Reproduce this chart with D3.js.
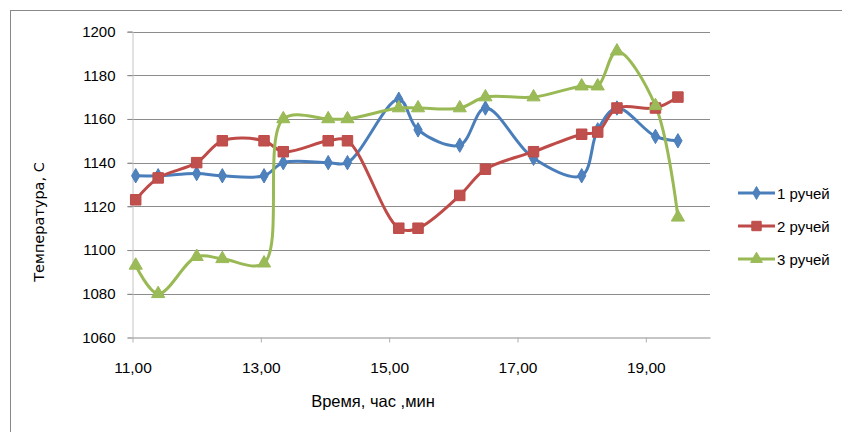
<!DOCTYPE html>
<html>
<head>
<meta charset="utf-8">
<script src="https://cdn.jsdelivr.net/npm/d3@7/dist/d3.min.js"></script>
<style>
  html, body { margin: 0; padding: 0; background: #fff; }
  svg { display: block; }
  text { font-family: "Liberation Sans", Arial, sans-serif; fill: #000; }
</style>
</head>
<body>
<svg id="chart" width="842" height="432"></svg>
<script>
// Measurement times (hours) shared by all three streams
const times = [11.05, 11.4, 12.0, 12.4, 13.05, 13.35, 14.05, 14.35, 15.15, 15.45,
               16.1, 16.5, 17.25, 18.0, 18.25, 18.55, 19.15, 19.5];

// Temperature per stream, °C
const stream1 = [1134, 1134, 1135, 1134, 1134, 1140, 1140, 1140, 1169, 1155,
                 1148, 1165, 1142, 1134, 1155, 1165, 1152, 1150];
const stream2 = [1123, 1133, 1140, 1150, 1150, 1145, 1150, 1150, 1110, 1110,
                 1125, 1137, 1145, 1153, 1154, 1165, 1165, 1170];
const stream3 = [1093, 1080, 1097, 1096, 1094, 1160, 1160, 1160, 1165, 1165,
                 1165, 1170, 1170, 1175, 1175, 1191, 1166, 1115];

const seriesNames = ["1 ручей", "2 ручей", "3 ручей"];
const xTicks = [11, 13, 15, 17, 19];
const yTicks = [1060, 1080, 1100, 1120, 1140, 1160, 1180, 1200];

const series = [
  { name: seriesNames[0], values: stream1, line: "#4a7ebb", fill: "#4f81bd", symbol: d3.symbolDiamond, size: 60 },
  { name: seriesNames[1], values: stream2, line: "#be4b48", fill: "#c0504d", symbol: d3.symbolSquare, size: 110 },
  { name: seriesNames[2], values: stream3, line: "#98b954", fill: "#9bbb59", symbol: d3.symbolTriangle, size: 75 }
];

const svg = d3.select("#chart");

// chart area frame
svg.append("rect")
  .attr("x", 10.5).attr("y", 10.5)
  .attr("width", 900).attr("height", 500)
  .attr("fill", "none").attr("stroke", "#898989").attr("stroke-width", 1);

const x = d3.scaleLinear().domain([11, 20]).range([132.5, 710]);
const y = d3.scaleLinear().domain([1060, 1200]).range([337.5, 31.5]);

// horizontal gridlines with short outer ticks
const grid = svg.append("g");
grid.selectAll("line")
  .data(yTicks.filter(v => v !== 1060))
  .join("line")
  .attr("x1", x(11) - 5).attr("x2", x(20))
  .attr("y1", d => Math.round(y(d)) + 0.5).attr("y2", d => Math.round(y(d)) + 0.5)
  .attr("stroke", "#8c8c8c").attr("stroke-width", 1);

// y axis
const yAxis = svg.append("g")
  .attr("transform", `translate(${x(11)},0)`)
  .call(d3.axisLeft(y).tickValues(yTicks).tickSize(5).tickFormat(d3.format("d")).tickPadding(12));
yAxis.select(".domain").attr("stroke", "#c4c4c4");
yAxis.selectAll(".tick line").attr("stroke", "#8c8c8c");
yAxis.selectAll(".tick text").style("font-size", "15px").style("font-family", "'Liberation Sans', Arial, sans-serif").attr("fill", "#000");

// x axis
const xAxis = svg.append("g")
  .attr("transform", `translate(0,${y(1060)})`)
  .call(d3.axisBottom(x).tickValues(xTicks).tickSize(5).tickSizeOuter(0)
    .tickFormat(d => d3.format(".2f")(d).replace(".", ",")).tickPadding(19));
xAxis.select(".domain").attr("stroke", "#8c8c8c");
xAxis.selectAll(".tick line").attr("stroke", "#b0b0b0");
xAxis.selectAll(".tick text").style("font-size", "15.5px").style("font-family", "'Liberation Sans', Arial, sans-serif").attr("fill", "#000");

// axis titles
svg.append("text")
  .attr("x", 373).attr("y", 407)
  .attr("text-anchor", "middle")
  .style("font-size", "16.5px")
  .text("Время, час ,мин");

svg.append("text")
  .attr("transform", "translate(44,222) rotate(-90)")
  .attr("text-anchor", "middle")
  .style("font-size", "14.5px")
  .style("font-family", "'DejaVu Sans', sans-serif")
  .text("Температура, С");

// smoothed lines
const line = d3.line()
  .x((d, i) => x(times[i]))
  .y(d => y(d))
  .curve(d3.curveCatmullRom.alpha(0.5));

const plot = svg.append("g");
series.forEach(s => {
  plot.append("path")
    .attr("d", line(s.values))
    .attr("fill", "none")
    .attr("stroke", s.line)
    .attr("stroke-width", 3)
    .attr("stroke-linejoin", "round")
    .attr("stroke-linecap", "round");
});
series.forEach(s => {
  plot.append("g").selectAll("path")
    .data(s.values)
    .join("path")
    .attr("transform", (d, i) => `translate(${x(times[i])},${y(d)})`)
    .attr("d", d3.symbol(s.symbol, s.size))
    .attr("fill", s.fill)
    .attr("stroke", s.line)
    .attr("stroke-width", 1);
});

// legend
const legend = svg.append("g");
series.forEach((s, i) => {
  const ly = 193 + i * 33;
  const g = legend.append("g").attr("transform", `translate(0,${ly})`);
  g.append("line")
    .attr("x1", 738).attr("x2", 775)
    .attr("stroke", s.line).attr("stroke-width", 3);
  g.append("path")
    .attr("transform", "translate(756.5,0)")
    .attr("d", d3.symbol(s.symbol, s.size * 0.8))
    .attr("fill", s.fill).attr("stroke", s.line);
  g.append("text")
    .attr("x", 777).attr("y", 5.5)
    .style("font-size", "15px")
    .text(s.name);
});
</script>
</body>
</html>
